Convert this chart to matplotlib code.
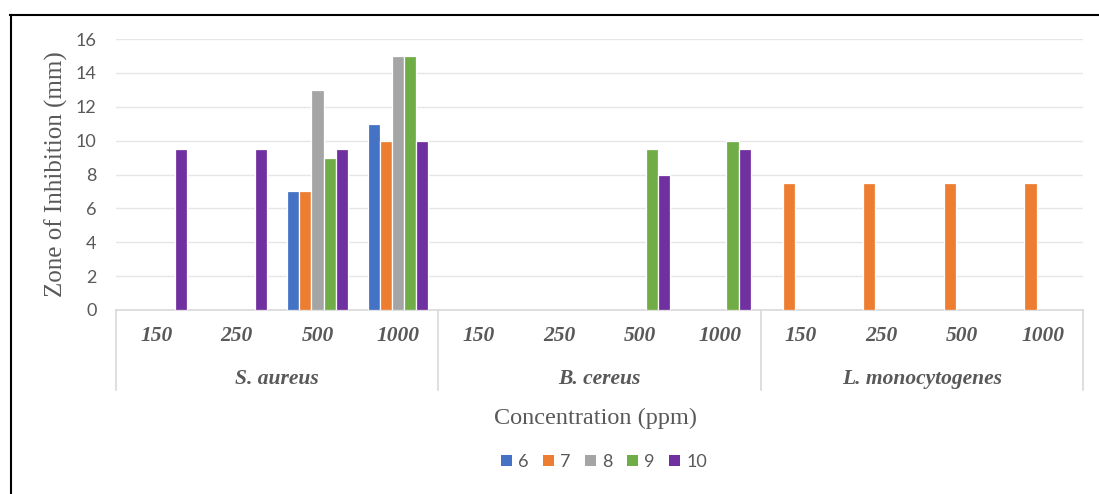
import matplotlib
matplotlib.use("Agg")
import matplotlib.pyplot as plt
from matplotlib.patches import Patch
from matplotlib.lines import Line2D
import numpy as np

# Bacteria groups and the concentrations tested within each group
organisms = ["S. aureus", "B. cereus", "L. monocytogenes"]
concentrations = ["150", "250", "500", "1000"]

# Series (extract / fraction labels) and zone of inhibition values in mm,
# ordered organism by organism, concentration by concentration
series_names = ["6", "7", "8", "9", "10"]
s6 = [0, 0, 7, 11, 0, 0, 0, 0, 0, 0, 0, 0]
s7 = [0, 0, 7, 10, 0, 0, 0, 0, 7.5, 7.5, 7.5, 7.5]
s8 = [0, 0, 13, 15, 0, 0, 0, 0, 0, 0, 0, 0]
s9 = [0, 0, 9, 15, 0, 0, 9.5, 10, 0, 0, 0, 0]
s10 = [9.5, 9.5, 9.5, 10, 0, 0, 8, 9.5, 0, 0, 0, 0]
series_values = [s6, s7, s8, s9, s10]
colors = ["#4472C4", "#ED7D31", "#A5A5A5", "#70AD47", "#7030A0"]

grey = "#595959"
serif = "Liberation Serif"
sans = "Lato"

W, H = 1099, 494
fig = plt.figure(figsize=(W / 100, H / 100), dpi=100)

# plot area in pixel coordinates
x0, x1 = 116, 1083
y_zero, y_top = 310, 39
ax = fig.add_axes([x0 / W, (H - y_zero) / H, (x1 - x0) / W, (y_zero - y_top) / H])

n_cat = len(organisms) * len(concentrations)
n_ser = len(series_names)
slot = 0.151
idx = np.arange(n_cat)
for k, (name, vals, c) in enumerate(zip(series_names, series_values, colors)):
    vals = np.asarray(vals, dtype=float)
    pos = idx + (k - (n_ser - 1) / 2) * slot
    mask = vals > 0
    ax.bar(pos[mask], vals[mask], width=slot, color=c, edgecolor="white",
           linewidth=0.9, zorder=3)

ax.set_xlim(-0.5, n_cat - 0.5)
ax.set_ylim(0, 16)
ax.set_yticks(np.arange(0, 17, 2))
ax.yaxis.grid(True, color="#E6E6E6", linewidth=1.0, zorder=0)
ax.set_axisbelow(True)
for side in ["top", "right", "left"]:
    ax.spines[side].set_visible(False)
ax.spines["bottom"].set_color("#D9D9D9")
ax.spines["bottom"].set_linewidth(1.2)
ax.tick_params(axis="y", length=0, pad=14, labelsize=13, labelcolor=grey)
for lab in ax.get_yticklabels():
    lab.set_fontfamily(sans)
ax.set_xticks([])

# two-level category axis
trans = ax.get_xaxis_transform()
for i in range(n_cat):
    ax.text(i, -0.095, concentrations[i % len(concentrations)], transform=trans,
            ha="center", va="center", fontsize=15.5, fontweight="bold",
            fontstyle="italic", family=serif, color=grey)
for g, org in enumerate(organisms):
    center = g * len(concentrations) + (len(concentrations) - 1) / 2
    ax.text(center, -0.255, org, transform=trans, ha="center", va="center",
            fontsize=15.5, fontweight="bold", fontstyle="italic",
            family=serif, color=grey)
for g in range(len(organisms) + 1):
    xb = g * len(concentrations) - 0.5
    ax.add_line(Line2D([xb, xb], [0, -0.295], transform=trans, color="#D9D9D9",
                       linewidth=1.2, clip_on=False))

ax.set_ylabel("Zone of Inhibition (mm)", family=serif, fontsize=18, color=grey)
ax.yaxis.set_label_coords((68 - x0) / (x1 - x0), 0.502)
fig.text(595 / W, 1 - 418 / H, "Concentration (ppm)", family=serif, fontsize=17.5,
         color=grey, ha="center", va="center")

handles = [Patch(facecolor=c, edgecolor="none") for c in colors]
leg = fig.legend(handles, series_names, loc="center", ncol=5,
                 bbox_to_anchor=(604 / W, 1 - 462 / H), frameon=False,
                 handlelength=0.6, handleheight=0.6, handletextpad=0.35,
                 columnspacing=0.8, prop={"family": sans, "size": 13})
for t in leg.get_texts():
    t.set_color(grey)

# outer frame lines along top and left
fig.add_artist(Line2D([10 / W, 1], [1 - 15 / H, 1 - 15 / H],
                      transform=fig.transFigure, color="black", linewidth=1.5))
fig.add_artist(Line2D([11 / W, 11 / W], [0, 1 - 15 / H],
                      transform=fig.transFigure, color="black", linewidth=1.5))

fig.savefig("out.png", dpi=100, facecolor="white")
